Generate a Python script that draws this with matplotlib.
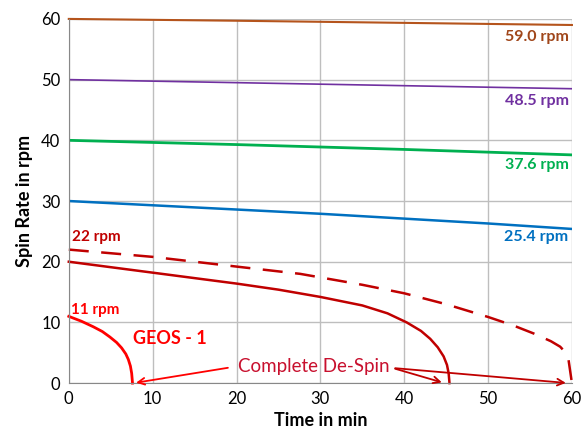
import matplotlib.pyplot as plt

plt.rcParams['font.family'] = ['Lato', 'DejaVu Sans']

# time in min / spin rate in rpm
t_59 = [0, 20, 40, 60]
w_59 = [60, 59.7, 59.35, 59.0]
t_48 = [0, 20, 40, 60]
w_48 = [50, 49.5, 49.0, 48.5]
t_37 = [0, 20, 40, 60]
w_37 = [40, 39.3, 38.5, 37.6]
t_25 = [0, 10, 20, 30, 40, 50, 60]
w_25 = [30, 29.3, 28.6, 27.9, 27.1, 26.3, 25.4]
t_22 = [0, 10, 20, 27.6, 35, 40, 45, 50, 53, 55.4, 57.5, 58.6, 59.2, 59.6, 60]
w_22 = [22, 20.8, 19.2, 18.0, 16.2, 14.8, 13.0, 10.9, 9.5, 8.2, 6.9, 6.0, 5.1, 3.8, 0]
t_20 = [0, 10, 20, 25, 30, 35, 38, 40.3, 42, 43.1, 44, 44.7, 45.1, 45.3, 45.4]
w_20 = [20, 18.2, 16.4, 15.4, 14.2, 12.8, 11.5, 10.0, 8.6, 7.3, 5.9, 4.4, 3.0, 1.6, 0]
t_11 = [0, 1.5, 2.9, 4.0, 4.9, 5.7, 6.3, 6.8, 7.1, 7.35, 7.5, 7.6]
w_11 = [11, 10.2, 9.3, 8.5, 7.6, 6.7, 5.8, 4.8, 3.9, 2.8, 1.6, 0]

fig = plt.figure(figsize=(5.83, 4.3), dpi=100)
ax = fig.add_axes([0.118, 0.109, 0.863, 0.847])

ax.plot(t_59, w_59, color='#B5541C', lw=1.5, clip_on=False)
ax.plot(t_48, w_48, color='#7030A0', lw=1.2)
ax.plot(t_37, w_37, color='#00B050', lw=2)
ax.plot(t_25, w_25, color='#0070C0', lw=1.8)
ax.plot(t_22, w_22, color='#C00000', lw=1.8, dashes=(8, 5), clip_on=False)
ax.plot(t_20, w_20, color='#C00000', lw=1.8, clip_on=False)
ax.plot(t_11, w_11, color='#FF0000', lw=2, clip_on=False)

ax.set_xlim(0, 60)
ax.set_ylim(0, 60)
ax.set_xticks(range(0, 61, 10))
ax.set_yticks(range(0, 61, 10))
ax.grid(True, color='#BEBEBE', lw=1)
ax.tick_params(length=0, labelsize=12, pad=6)
for s in ['top', 'right']:
    ax.spines[s].set_visible(False)
for s in ['left', 'bottom']:
    ax.spines[s].set_color('#888888')

ax.set_xlabel('Time in min', fontsize=13, fontweight='bold', labelpad=3)
ax.set_ylabel('Spin Rate in rpm', fontsize=13, fontweight='bold', labelpad=6)

lab = dict(fontsize=11.5, fontweight='bold', ha='right', va='center')
ax.text(59.6, 57.1, '59.0 rpm', color='#A0461A', **lab)
ax.text(59.6, 46.5, '48.5 rpm', color='#7030A0', **lab)
ax.text(59.6, 35.9, '37.6 rpm', color='#00B050', **lab)
ax.text(59.6, 24.0, '25.4 rpm', color='#0070C0', **lab)
ax.text(0.4, 24.0, '22 rpm', color='#C00000', fontsize=11, fontweight='bold', va='center')
ax.text(0.3, 12.0, '11 rpm', color='#FF0000', fontsize=11, fontweight='bold', va='center')
ax.text(7.6, 7.3, 'GEOS - 1', color='#FF0000', fontsize=13, fontweight='bold', va='center')
ax.text(29.2, 2.8, 'Complete De-Spin', color='#C8102E', fontsize=13.5, ha='center', va='center')

arr = dict(arrowstyle='->', lw=1.3, mutation_scale=12)
ax.annotate('', xy=(7.7, 0), xytext=(19.3, 2.6),
            arrowprops=dict(color='#FF0000', **arr), annotation_clip=False)
ax.annotate('', xy=(44.8, 0), xytext=(38.6, 2.5),
            arrowprops=dict(color='#C00000', **arr), annotation_clip=False)
ax.annotate('', xy=(59.6, 0), xytext=(38.6, 2.5),
            arrowprops=dict(color='#C00000', **arr), annotation_clip=False)

fig.savefig('out.png', dpi=100)
